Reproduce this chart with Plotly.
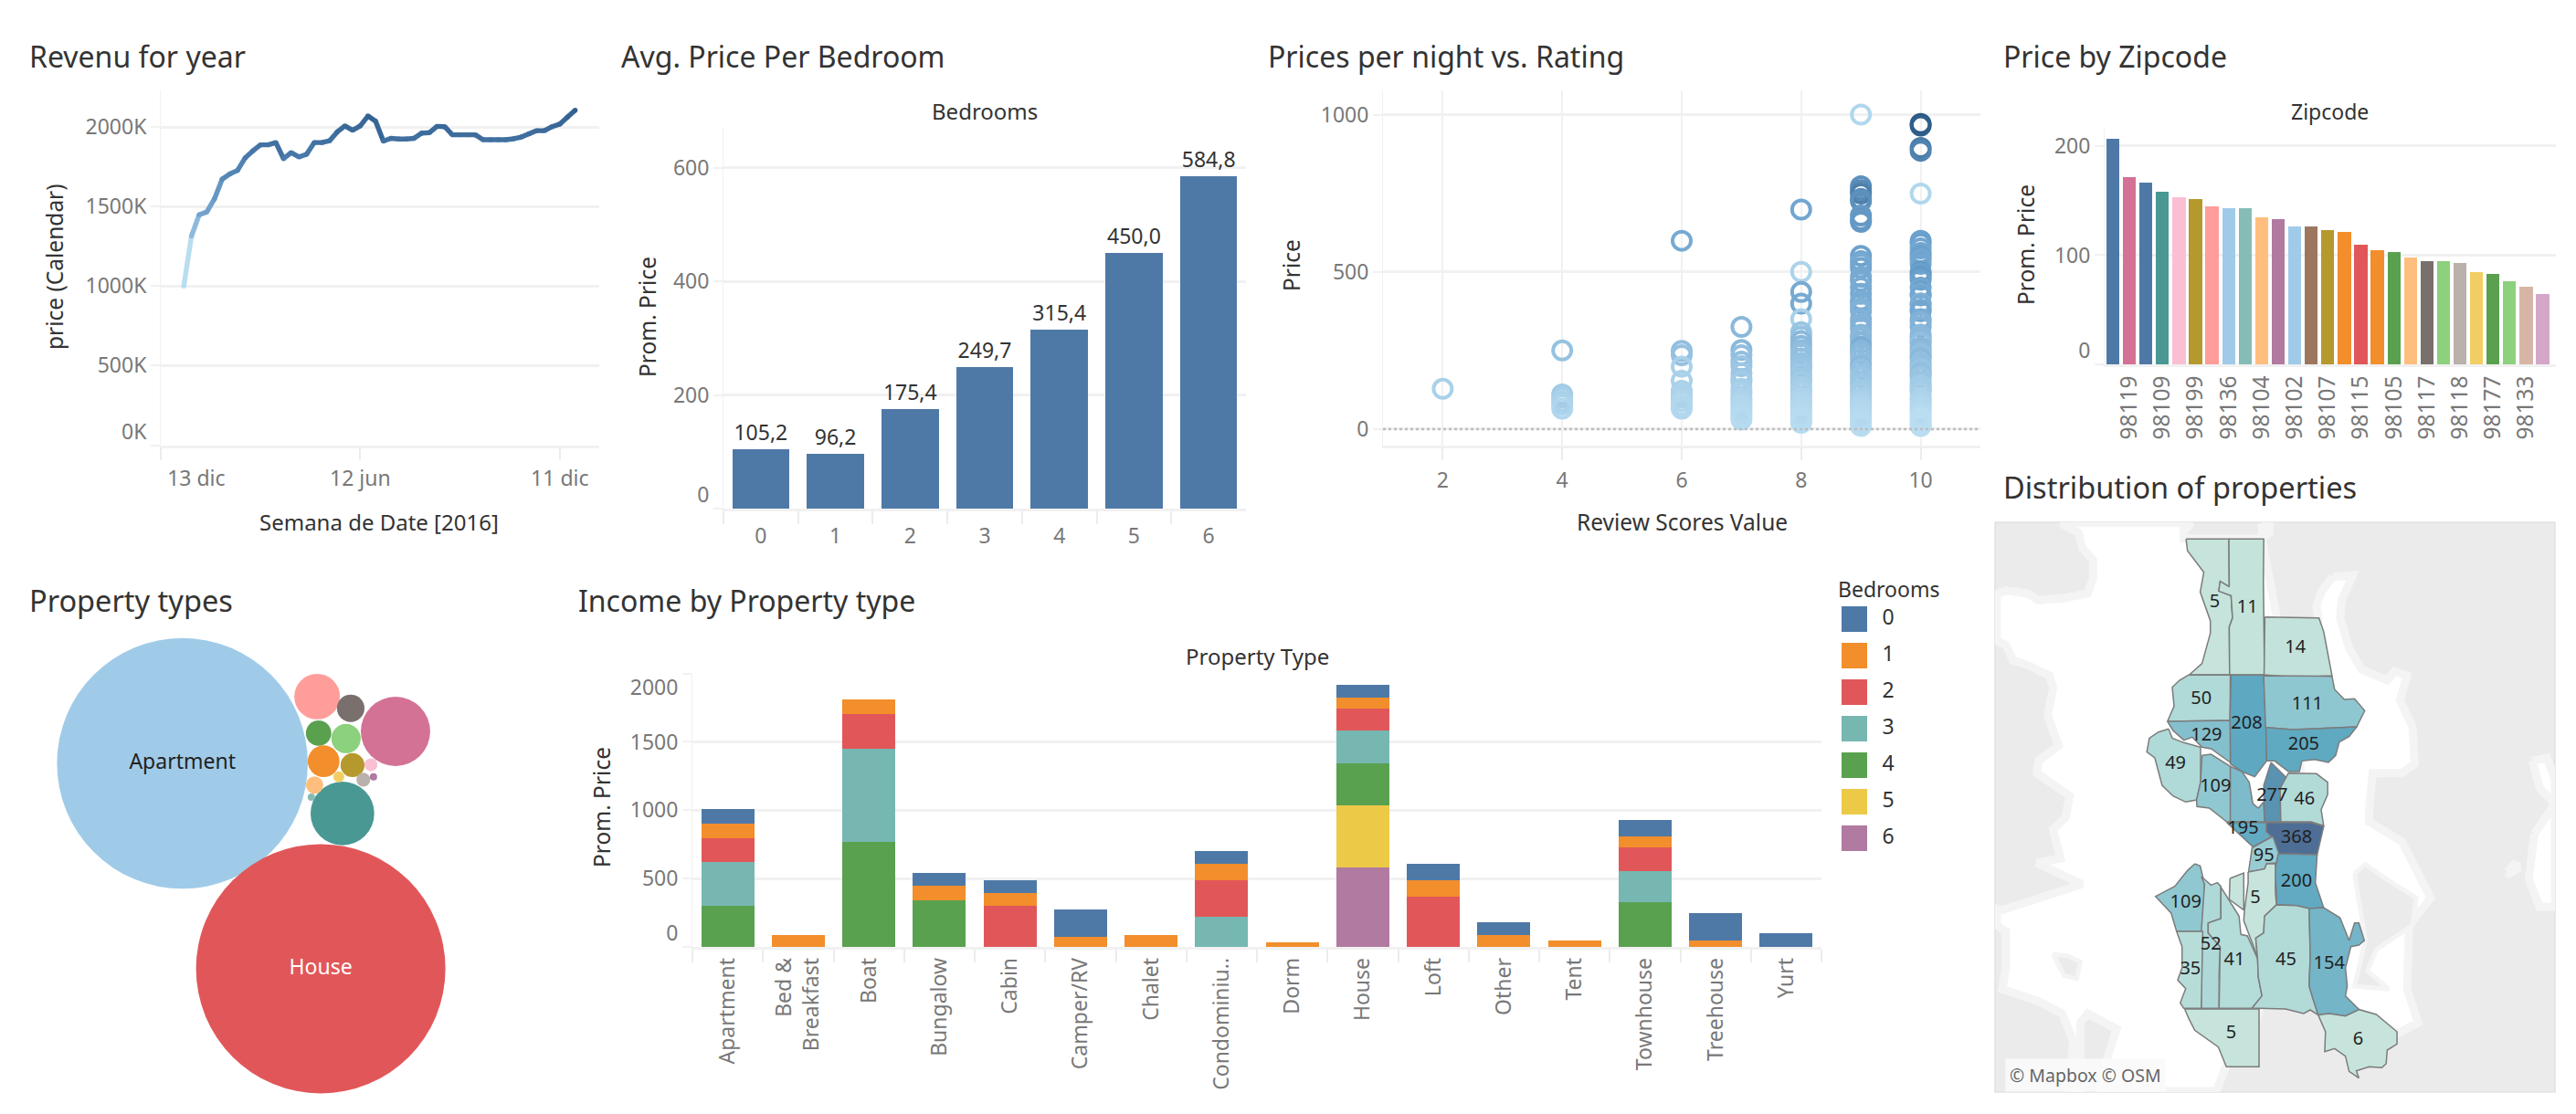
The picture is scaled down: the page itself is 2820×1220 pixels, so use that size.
import plotly.graph_objects as go

# ---------------- data ----------------
week_start = ["2016-01-03","2016-01-10","2016-01-17","2016-01-24","2016-01-31","2016-02-07","2016-02-14","2016-02-21","2016-02-28","2016-03-06","2016-03-13","2016-03-20","2016-03-27","2016-04-03","2016-04-10","2016-04-17","2016-04-24","2016-05-01","2016-05-08","2016-05-15","2016-05-22","2016-05-29","2016-06-05","2016-06-12","2016-06-19","2016-06-26","2016-07-03","2016-07-10","2016-07-17","2016-07-24","2016-07-31","2016-08-07","2016-08-14","2016-08-21","2016-08-28","2016-09-04","2016-09-11","2016-09-18","2016-09-25","2016-10-02","2016-10-09","2016-10-16","2016-10-23","2016-10-30","2016-11-06","2016-11-13","2016-11-20","2016-11-27","2016-12-04","2016-12-11","2016-12-18","2016-12-25"]
revenue_k = [1000,1314,1448,1466,1549,1672,1705,1727,1806,1850,1888,1888,1902,1801,1839,1812,1828,1902,1902,1913,1969,2007,1980,2007,2069,2036,1911,1929,1924,1924,1929,1962,1964,2004,2002,1951,1951,1951,1951,1920,1920,1920,1920,1926,1937,1957,1977,1977,2002,2018,2062,2105]

bedrooms = ["0","1","2","3","4","5","6"]
bedroom_price = [105.2,96.2,175.4,249.7,315.4,450.0,584.8]

rating_2 = [128]
shade_2 = [.10]
rating_4 = [250,110,100,88,78,65]
shade_4 = [.22,.15,.12,.1,.08,.06]
rating_6 = [599,249,235,199,154,122,110,100,88,75,65]
shade_6 = [.42,.25,.22,.1,.1,.1,.08,.08,.06,.05,.05]
rating_7 = [325,252,235,215,200,178,160,150,128,115,100,90,80,70,60,50,40,30]
shade_7 = [.3,.3,.25,.25,.2,.18,.18,.15,.12,.1,.1,.08,.06,.05,.04,.03,.02,.02]
rating_8 = [698,500,436,399,350,308,295,280,265,250,240,225,210,200,190,175,160,150,135,125,115,100,90,80,70,60,50,40,30,20]
shade_8 = [.45,.08,.42,.42,.1,.2,.22,.3,.3,.28,.25,.25,.22,.22,.2,.18,.18,.15,.13,.12,.1,.08,.07,.06,.05,.04,.03,.02,.01,.01]
rating_9 = [1000,772,760,749,732,725,679,665,659,551,534,525,512,484,470,450,430,410,400,385,375,350,335,320,300,290,275,260,250,240,225,210,200,190,175,165,150,140,125,115,100,90,80,70,60,50,40,30,20,10]
shade_9 = [.05,.6,.65,.72,.62,.6,.55,.55,.55,.48,.45,.42,.45,.42,.42,.4,.42,.4,.4,.36,.36,.36,.35,.35,.32,.3,.32,.4,.32,.3,.28,.26,.3,.24,.22,.2,.2,.18,.16,.14,.12,.1,.08,.06,.05,.04,.03,.02,.01,.01]
rating_10 = [970,965,894,885,749,599,590,575,560,551,540,525,500,495,485,475,450,430,425,400,395,380,375,350,340,325,300,290,280,275,260,250,240,230,225,210,200,190,180,175,165,150,140,130,125,115,100,95,85,75,65,55,45,35,25,15,10]
shade_10 = [1.0,.95,.75,.7,.05,.5,.5,.45,.45,.5,.45,.45,.55,.5,.55,.5,.45,.4,.45,.35,.4,.4,.45,.4,.35,.35,.3,.3,.3,.25,.3,.3,.25,.25,.3,.25,.25,.2,.25,.25,.2,.2,.15,.15,.15,.12,.1,.08,.07,.05,.05,.03,.02,0,0,0,0]

zip_price = [206.5,171.4,166.5,158,153,151.5,144.7,143,143,134.6,133,126.5,126.5,123,121.3,109.6,104.7,103,98,94.6,94.6,93,84.6,83,76,71,64.4]
zip_labels = {1:"98119",3:"98109",5:"98199",7:"98136",9:"98104",11:"98102",13:"98107",15:"98115",17:"98105",19:"98117",21:"98118",23:"98177",25:"98133"}
zip_colors = ["#4e79a7","#d37295","#4e79a7","#499894","#fabfd2","#b6992d","#ff9d9a","#a0cbe8","#86bcb6","#ffbe7d","#b07aa1","#a0cbe8","#9d7660","#b6992d","#f28e2b","#e15759","#f28e2b","#59a14f","#ffbe7d","#79706e","#8cd17d","#bab0ac","#f1ce63","#59a14f","#8cd17d","#d7b5a6","#d4a6c8"]

bubble_count = [1753,1733,134,113,58,21,18,24,28,16,4.7,3.3,5.3,1.5,8.4,1.5]
bubble_x = [505,888,1095,948,878,971,882,958,896,976,1027,938,1006,1034,871,862]
bubble_y = [581,1159,491,722,393,426,496,511,575,586,585,619,627,619,642,676]
bubble_color = ["#a0cbe8","#e15759","#d37295","#499894","#ff9d9a","#79706e","#59a14f","#8cd17d","#f28e2b","#b6992d","#fabfd2","#f1ce63","#bab0ac","#b07aa1","#ffbe7d","#86bcb6"]
bubble_text = ["Apartment","House"] + [""]*14
bubble_text_color = ["#222222","#ffffff"] + ["#222222"]*14

property_types = ["Apartment","Bed &<br>Breakfast","Boat","Bungalow","Cabin","Camper/RV","Chalet","Condominiu..","Dorm","House","Loft","Other","Tent","Townhouse","Treehouse","Yurt"]
income_b0 = [109,0,0,94,93,200,0,93,0,94,120,94,0,122,202,101]
income_b1 = [106,88,106,109,94,75,88,120,34,80,119,88,47,78,47,0]
income_b2 = [174,0,255,0,301,0,0,267,0,159,369,0,0,174,0,0]
income_b3 = [320,0,680,0,0,0,0,221,0,241,0,0,0,229,0,0]
income_b4 = [301,0,769,340,0,0,0,0,0,307,0,0,0,327,0,0]
income_b5 = [0,0,0,0,0,0,0,0,0,454,0,0,0,0,0,0]
income_b6 = [0,0,0,0,0,0,0,0,0,582,0,0,0,0,0,0]
bedroom_colors = ["#4e79a7","#f28e2b","#e15759","#76b7b2","#59a14f","#edc948","#b07aa1"]

# map outlines (map coordinates; y grows southwards)
districts = [
 (5,[(536,61),(654,61),(655,218),(630,200),(626,232),(660,247),(664,320),(655,350),(656,507),(545,507),(580,470),(603,370),(603,330),(575,235),(585,170),(540,100)]),
 (11,[(654,61),(750,61),(749,200),(752,507),(656,507),(655,350),(664,320),(660,247),(626,232),(630,200),(655,218)]),
 (14,[(753,317),(902,320),(915,365),(938,510),(830,515),(751,507)]),
 (50,[(542,508),(658,508),(657,657),(485,660),(503,610),(498,548),(518,525)]),
 (208,[(660,508),(750,508),(756,680),(758,790),(725,842),(690,825),(658,800),(657,657)]),
 (111,[(750,510),(938,512),(945,555),(972,588),(1000,586),(1028,625),(1006,678),(830,687),(755,680)]),
 (129,[(485,660),(657,657),(658,795),(605,750),(580,745),(553,712),(530,722),(500,690)]),
 (205,[(756,680),(830,687),(1006,678),(985,710),(958,728),(948,772),(928,795),(890,785),(855,790),(848,825),(818,825),(780,790),(758,790)]),
 (49,[(488,685),(498,715),(530,730),(576,745),(576,860),(565,918),(535,925),(500,905),(470,870),(450,780),(428,760),(435,715),(460,695)]),
 (109,[(580,772),(605,768),(658,808),(658,990),(648,990),(600,945),(566,940),(565,918),(576,860)]),
 (140,[(658,808),(690,825),(710,860),(720,930),(735,945),(750,925),(752,990),(658,990)]),
 (277,[(770,795),(812,845),(795,880),(797,990),(752,990),(750,870)]),
 (46,[(818,830),(895,832),(926,860),(926,900),(908,950),(915,1003),(880,990),(797,990),(795,880)]),
 (195,[(648,992),(757,992),(757,1022),(775,1037),(720,1072),(702,1052),(675,1022)]),
 (368,[(757,992),(880,992),(915,1005),(897,1098),(790,1095),(772,1040),(757,1022)]),
 (95,[(775,1038),(792,1095),(785,1125),(758,1128),(752,1145),(708,1155),(718,1075)]),
 (200,[(790,1095),(897,1098),(892,1190),(915,1272),(875,1275),(840,1265),(785,1262),(785,1220),(780,1155),(785,1125)]),
 (5,[(707,1155),(752,1145),(758,1128),(782,1127),(782,1220),(785,1262),(752,1300),(750,1355),(728,1372),(733,1435),(695,1315),(697,1280),(707,1190)]),
 (5,[(657,1176),(695,1158),(695,1280),(655,1245)]),
 (109,[(560,1128),(575,1135),(587,1195),(582,1350),(510,1350),(495,1290),(452,1235),(505,1202),(540,1150)]),
 (52,[(578,1170),(605,1198),(622,1190),(632,1202),(632,1308),(597,1322),(597,1355),(630,1400),(627,1490),(627,1603),(578,1603),(578,1350),(587,1195)]),
 (35,[(510,1350),(582,1350),(578,1603),(530,1603),(520,1585),(535,1538),(513,1510),(525,1470),(525,1400)]),
 (41,[(632,1205),(650,1240),(682,1300),(687,1360),(705,1365),(733,1440),(735,1500),(745,1562),(718,1602),(627,1603),(630,1400),(597,1355),(597,1322),(632,1308)]),
 (45,[(785,1263),(840,1265),(875,1275),(878,1430),(875,1530),(900,1625),(878,1608),(860,1620),(810,1605),(718,1602),(745,1562),(735,1500),(733,1440),(728,1372),(750,1355),(752,1300)]),
 (154,[(875,1275),(915,1272),(960,1305),(985,1380),(1000,1322),(1012,1322),(1027,1380),(1012,1395),(990,1400),(975,1470),(980,1530),(975,1562),(1013,1607),(975,1628),(930,1620),(900,1625),(885,1570),(875,1530),(878,1430)]),
 (5,[(532,1605),(737,1605),(737,1795),(647,1795),(625,1730),(560,1675),(545,1640)]),
 (6,[(900,1625),(930,1620),(975,1628),(1013,1607),(1060,1623),(1117,1680),(1117,1720),(1090,1740),(1087,1785),(1075,1798),(1040,1795),(1005,1808),(1012,1832),(985,1810),(975,1760),(945,1735),(918,1745),(920,1680)]),
]
district_labels = ["5","11","14","50","208","111","129","205","49","109","277","46","195","368","95","200","109","5","52","41","45","154","35","5","6"]
label_x = [615,705,837,578,703,870,592,860,507,617,773,862,693,840,750,840,535,727,604,669,811,930,548,660,1010]
label_y = [270,288,420,587,670,605,707,737,802,877,905,917,1013,1043,1103,1187,1258,1242,1396,1446,1446,1457,1475,1685,1708]
water = [
 [(190,8),(240,40),(250,90),(280,130),(280,190),(265,240),(200,255),(130,262),(100,240),(40,230),(15,240),(15,395),(40,410),(60,460),(100,475),(160,510),(170,550),(155,640),(185,740),(130,790),(125,830),(215,905),(205,975),(170,1015),(190,1110),(125,1125),(250,1195),(110,1250),(30,1280),(15,1275),(15,1330),(40,1350),(40,1470),(30,1540),(130,1580),(195,1620),(225,1710),(215,1875),(245,1875),(245,1650),(265,1620),(345,1670),(320,1760),(300,1875),(620,1875),(645,1795),(737,1620),(737,1300),(860,1000),(860,790),(745,60),(530,60),(530,35),(550,8)],
 [(940,185),(995,180),(965,260),(960,320),(985,420),(1020,490),(1090,525),(1110,495),(1145,510),(1125,590),(1160,680),(1165,800),(1130,830),(1050,830),(1040,950),(1040,990),(1130,1055),(1210,1240),(1150,1330),(1145,1540),(1175,1650),(1120,1685),(1000,1610),(900,1600),(860,1000),(850,790),(900,320),(895,280),(910,230)],
 [(745,10),(765,10),(765,40),(752,60),(745,60)],
 [(1495,1030),(1552,930),(1552,1270),(1510,1270),(1480,1180)],
 [(1490,790),(1530,780),(1552,850),(1552,930),(1510,880)],
 [(1420,1155),(1445,1125),(1448,1145),(1425,1160)],
]
land = [
 [(170,1425),(210,1430),(245,1450),(235,1505),(200,1495)],
 [(1000,1160),(1030,1130),(1090,1180),(1170,1240),(1160,1330),(1060,1410),(1035,1480),(1095,1540),(1000,1530),(1030,1380)],
]

# ---------------- helpers ----------------
W, H = 2820, 1220
FONT = "Noto Sans"
TICK = "#787878"
GRID = "#f1f1f1"
DARK = "#333333"
LAND = "#ebebeb"
COAST = "#f4f4f4"

def dx(a, b):
    return [a / W, b / W]

def dy(top, bot):
    return [1 - bot / H, 1 - top / H]

def hex2rgb(h):
    return tuple(int(h[i:i + 2], 16) for i in (1, 3, 5))

def ramp(v, stops):
    if v <= stops[0][0]:
        return stops[0][1]
    for (a, ca), (b, cb) in zip(stops, stops[1:]):
        if v <= b:
            t = (v - a) / (b - a)
            ra, rb = hex2rgb(ca), hex2rgb(cb)
            return "#%02x%02x%02x" % tuple(round(p + (q - p) * t) for p, q in zip(ra, rb))
    return stops[-1][1]

LINE_STOPS = [(1000, "#b9ddf1"), (1300, "#8dbcdd"), (1500, "#6a9cc8"), (1800, "#4a7bab"), (2100, "#325f90")]
MAP_STOPS = [(5, "#c6e4dc"), (50, "#b0dad8"), (111, "#8fc7d1"), (154, "#74b5c8"), (208, "#5ea8c1"), (277, "#5a92b2"), (368, "#4e6e95")]

fig = go.Figure()

# line
for i in range(len(revenue_k) - 1):
    fig.add_trace(go.Scatter(x=week_start[i:i + 2], y=revenue_k[i:i + 2], mode="lines",
                             line=dict(color=ramp(revenue_k[i], LINE_STOPS), width=5.4),
                             xaxis="x", yaxis="y", hoverinfo="skip"))
fig.add_trace(go.Scatter(x=week_start, y=revenue_k, mode="markers",
                         marker=dict(size=5.4, color=[ramp(v, LINE_STOPS) for v in revenue_k]),
                         xaxis="x", yaxis="y"))

# bedrooms
fig.add_trace(go.Bar(x=bedrooms, y=bedroom_price, width=0.765, marker_color="#4e79a7",
                     texttemplate="%{y:.1f}", textposition="outside", cliponaxis=False,
                     textfont=dict(size=23, color=DARK, family=FONT), xaxis="x2", yaxis="y2"))

# scatter
sc_x, sc_y, sc_c = [], [], []
for r, ys, cs in [(2, rating_2, shade_2), (4, rating_4, shade_4), (6, rating_6, shade_6), (7, rating_7, shade_7),
                  (8, rating_8, shade_8), (9, rating_9, shade_9), (10, rating_10, shade_10)]:
    sc_x += [r] * len(ys)
    sc_y += ys
    sc_c += cs
fig.add_trace(go.Scatter(x=sc_x, y=sc_y, mode="markers", xaxis="x3", yaxis="y3",
                         marker=dict(symbol="circle-open", size=20, color=sc_c, cmin=0, cmax=1,
                                     colorscale=[[0, "#b9ddf1"], [0.5, "#6aa0cc"], [1, "#2a5783"]], line=dict(width=4))))

# zipcode
fig.add_trace(go.Bar(x=list(range(len(zip_price))), y=zip_price, width=0.79, marker_color=zip_colors,
                     xaxis="x4", yaxis="y4"))

# bubbles
fig.add_trace(go.Scatter(x=bubble_x, y=bubble_y, mode="markers+text", text=bubble_text,
                         textposition="middle center", textfont=dict(size=23, color=bubble_text_color, family=FONT),
                         marker=dict(size=bubble_count, sizemode="area", sizeref=2 * bubble_count[1] / 273 ** 2,
                                     color=bubble_color, opacity=1, line=dict(width=0)),
                         xaxis="x5", yaxis="y5", cliponaxis=False))

# stacked
for i, vals in reversed(list(enumerate([income_b0, income_b1, income_b2, income_b3, income_b4, income_b5, income_b6]))):
    fig.add_trace(go.Bar(x=property_types, y=vals, width=0.75, name=bedrooms[i], marker_color=bedroom_colors[i],
                         xaxis="x6", yaxis="y6"))

# legend
fig.add_trace(go.Scatter(x=[0] * 7, y=[0, 1, 2, 3, 4, 5, 6], mode="markers+text", text=["  " + b for b in bedrooms],
                         textposition="middle right", textfont=dict(size=23, color=DARK, family=FONT),
                         marker=dict(symbol="square", size=28, color=bedroom_colors),
                         xaxis="x7", yaxis="y7", cliponaxis=False))

# map
def poly(pts, fill, line=None, width=1.5):
    xs = [p[0] for p in pts] + [pts[0][0]]
    ys = [p[1] for p in pts] + [pts[0][1]]
    return go.Scatter(x=xs, y=ys, mode="lines", fill="toself", fillcolor=fill,
                      line=dict(color=line or fill, width=width, shape="linear"),
                      xaxis="x8", yaxis="y8", hoverinfo="skip")

for pts in water:
    fig.add_trace(poly(pts, "#ffffff", COAST, 9))
for pts in land:
    fig.add_trace(poly(pts, LAND, COAST, 5))
for value, pts in districts:
    fig.add_trace(poly(pts, ramp(value, MAP_STOPS), "#7c7c7c"))
fig.add_trace(go.Scatter(x=label_x, y=label_y, mode="text", text=district_labels,
                         textfont=dict(size=20, color="#1f1f1f", family=FONT), xaxis="x8", yaxis="y8"))

# ---------------- layout ----------------
def cart(dom, **kw):
    d = dict(domain=dom, showgrid=False, zeroline=False, showline=False, ticks="", automargin=False,
             tickfont=dict(size=23, color=TICK, family=FONT), fixedrange=True)
    d.update(kw)
    return d

def yaxis_common(dom, anchor, vals, texts, rng, **kw):
    return cart(dom, anchor=anchor, range=rng, tickmode="array", tickvals=vals, ticktext=texts,
                showgrid=True, gridcolor=GRID, gridwidth=2.5, showline=True, linecolor=GRID, linewidth=1,
                ticks="outside", ticklen=10, tickcolor=GRID, tickwidth=2, **kw)

def xaxis_base(dom, anchor, **kw):
    return cart(dom, anchor=anchor, showline=True, linecolor=GRID, linewidth=2.5,
                ticks="outside", ticklen=14, tickcolor="#ececec", tickwidth=1.5, **kw)

def hidden(dom, rng, anchor, **kw):
    return dict(domain=dom, range=rng, visible=False, anchor=anchor, fixedrange=True, automargin=False, **kw)

SP = "&nbsp;"
layout = dict(
    template="none",
    width=W, height=H, autosize=False, margin=dict(l=0, r=0, t=0, b=0, pad=0), paper_bgcolor="white", plot_bgcolor="white",
    showlegend=False, barmode="stack", separators=",.", font=dict(family=FONT, color=DARK), hovermode=False,
    xaxis=xaxis_base(dx(176, 656), "y", type="date", range=["2015-12-13", "2017-01-16"], tickmode="array",
                     tickvals=["2015-12-13", "2016-06-12", "2016-12-11"],
                     ticktext=[SP * 13 + "13 dic", "12 jun", "11 dic"], ticklabelstandoff=0),
    yaxis=yaxis_common(dy(99, 487.5), "x", [0, 500, 1000, 1500, 2000],
                       ["0K<br>" + SP, "500K", "1000K", "1500K", "2000K"], [0, 2230]),
    xaxis2=xaxis_base(dx(792, 1364), "y2", type="category", tickson="boundaries", range=[-0.5, 6.5], ticklabelstandoff=8),
    yaxis2=yaxis_common(dy(140, 557), "x2", [0, 200, 400, 600], ["0<br>" + SP, "200", "400", "600"], [0, 670]),
    xaxis3=xaxis_base(dx(1514, 2168), "y3", range=[1, 11], tickmode="array", tickvals=[2, 4, 6, 8, 10],
                      showgrid=True, gridcolor=GRID, gridwidth=1.5, ticklabelstandoff=2),
    yaxis3=yaxis_common(dy(99, 487.5), "x3", [0, 500, 1000], ["0", "500", "1000"], [-51, 1077]),
    xaxis4=cart(dx(2304, 2798), anchor="y4", range=[-0.5, 26.8], tickmode="array", tickvals=list(zip_labels),
                ticktext=list(zip_labels.values()), tickangle=-90, showline=True, linecolor=GRID, linewidth=2.5,
                tickfont=dict(size=24.5, color=TICK, family=FONT)),
    yaxis4=yaxis_common(dy(140, 399), "x4", [0, 100, 200], ["0<br>" + SP, "100", "200"], [0, 216.7]),
    xaxis5=hidden(dx(0, 620), [0, 1568], "y5"),
    yaxis5=hidden(dy(610, 1220), [1568, 0], "x5"),
    xaxis6=xaxis_base(dx(758, 1994), "y6", type="category", tickson="boundaries", tickangle=-90,
                      range=[-0.5, 15.5]),
    yaxis6=yaxis_common(dy(737.6, 1037), "x6", [0, 500, 1000, 1500, 2000],
                        ["0<br>" + SP, "500", "1000", "1500", SP + "<br>2000"], [0, 2000]),
    xaxis7=hidden(dx(2016, 2100), [-14, 70], "y7"),
    yaxis7=hidden(dy(658, 938), [6.5, -0.5], "x7"),
    xaxis8=hidden(dx(2184, 2797), [10, 1552], "y8"),
    yaxis8=hidden(dy(572, 1196), [1878, 6], "x8"),
    shapes=[
        dict(type="line", xref="x3 domain", yref="y3", x0=0, x1=1, y0=0, y1=0,
             line=dict(color="#bdbdbd", width=2.5, dash="dot")),
        dict(type="rect", xref="paper", yref="paper", x0=2184 / W, x1=2797 / W, y0=1 - 1196 / H, y1=1 - 572 / H,
             fillcolor=LAND, line=dict(color="#e2e2e2", width=1.5), layer="below"),
    ],
)

def note(text, x, y, size, color=DARK, anchor="left", angle=0, **kw):
    if anchor == "left":
        x -= 3
    return dict(text=text, xref="paper", yref="paper", x=x / W, y=1 - y / H, xanchor=anchor, yanchor="middle",
                showarrow=False, textangle=angle, font=dict(size=size, color=color, family=FONT), **kw)

layout["annotations"] = [
    note("Revenu for year", 33, 61, 32),
    note("Avg. Price Per Bedroom", 681, 61, 32),
    note("Prices per night vs. Rating", 1389, 61, 32),
    note("Price by Zipcode", 2194, 61, 32),
    note("Distribution of properties", 2194, 533, 32.5),
    note("Property types", 33, 657, 32.5),
    note("Income by Property type", 634, 657, 32),
    note("price (Calendar)", 59, 292, 24.5, angle=-90, anchor="center"),
    note("Semana de Date [2016]", 415, 571, 24, anchor="center"),
    note("Bedrooms", 1078, 122, 24, anchor="center"),
    note("Prom. Price", 708, 347, 24.5, angle=-90, anchor="center"),
    note("Price", 1413, 291, 24.5, angle=-90, anchor="center"),
    note("Review Scores Value", 1841, 571, 24.5, anchor="center"),
    note("Zipcode", 2550, 122, 23, anchor="center"),
    note("Prom. Price", 2218, 268, 24.5, angle=-90, anchor="center"),
    note("Property Type", 1376, 718, 24, anchor="center"),
    note("Prom. Price", 658, 884, 24.5, angle=-90, anchor="center"),
    note("Bedrooms", 2013, 645, 23),
    note("© Mapbox © OSM", 2198, 1177, 19.5, color="#666666", bgcolor="rgba(250,250,250,0.95)", borderpad=4),
]
fig.update_layout(**layout)

fig.write_html("out.html", config={"displayModeBar": False},
               post_script="document.body.style.margin='0';document.body.style.overflow='hidden';")
